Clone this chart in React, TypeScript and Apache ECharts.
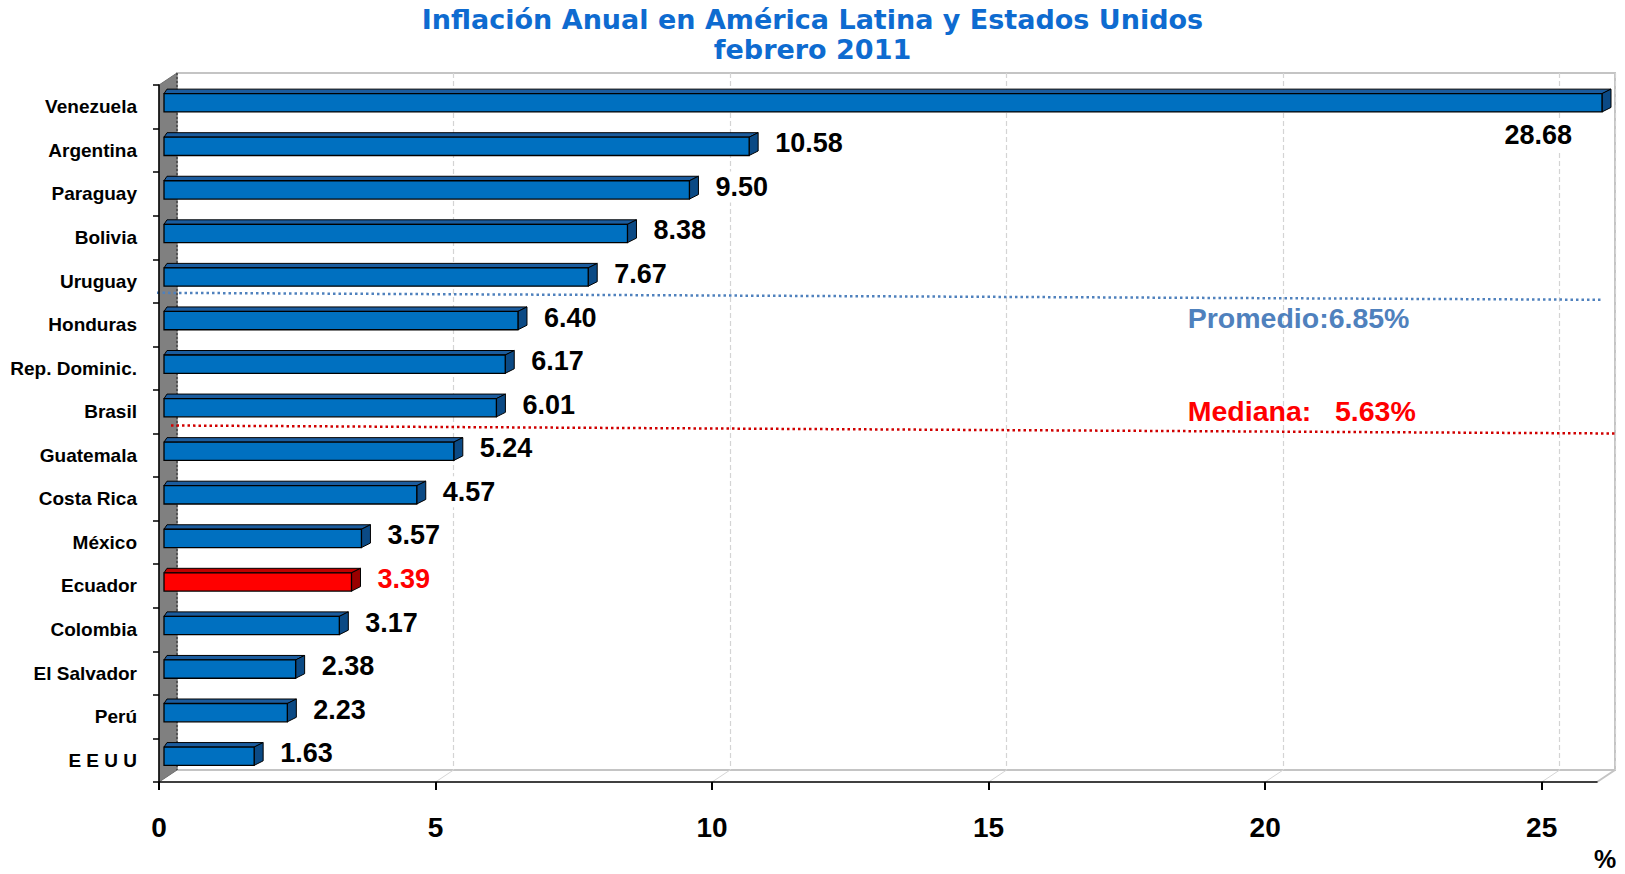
import React, { useEffect, useRef } from 'react';
import * as echarts from 'echarts';

// ---------------- data ----------------
const categories = [
  'Venezuela', 'Argentina', 'Paraguay', 'Bolivia', 'Uruguay', 'Honduras',
  'Rep. Dominic.', 'Brasil', 'Guatemala', 'Costa Rica', 'México', 'Ecuador',
  'Colombia', 'El Salvador', 'Perú', 'E E U U',
];
const values = [28.68, 10.58, 9.5, 8.38, 7.67, 6.4, 6.17, 6.01, 5.24, 4.57, 3.57, 3.39, 3.17, 2.38, 2.23, 1.63];
const highlighted = ['Ecuador'];
const xTicks = [0, 5, 10, 15, 20, 25];
const xMax = 26;
const refValues = [6.85, 5.63];
const refLabels = ['Promedio:6.85%', 'Mediana:   5.63%'];
const titleLines = ['Inflación Anual en América Latina y Estados Unidos', 'febrero 2011'];
const unitLabel = '%';

// ---------------- layout ----------------
const W = 1625;
const H = 874;
const GL = 159;
const GT = 85;
const GW = 1438;
const GH = 697;
const DX = 18;
const DY = -12;
const ANNOT_X = 18.6;

const FONT = 'Arial, "Liberation Sans", Helvetica, sans-serif';

const BLUE = { front: '#0070C0', top: '#1B5C9E', side: '#0B4A85' };
const RED = { front: '#FF0000', top: '#C00000', side: '#9A0000' };

function buildOption() {
  const xToPx = (v: number) => GL + (v / xMax) * GW;

  const barData = values.map((v, i) => [i, v]);
  const refData = refValues.map((v, i) => [i, v]);

  const graphic: any[] = [];
  // left wall
  graphic.push({
    type: 'polygon',
    z: 1,
    shape: { points: [[GL, GT], [GL + DX, GT + DY], [GL + DX, GT + GH + DY], [GL, GT + GH]] },
    style: { fill: '#808080', stroke: '#6e6e6e', lineWidth: 1 },
  });
  // wall back edge
  graphic.push({
    type: 'line',
    z: 1,
    shape: { x1: GL + DX, y1: GT + DY, x2: GL + DX, y2: GT + GH + DY },
    style: { stroke: '#444', lineWidth: 1.5, lineDash: [2, 2] },
  });
  // floor diagonals
  xTicks.forEach((t) => {
    if (t === 0) return;
    const x = xToPx(t);
    graphic.push({
      type: 'line',
      z: 0,
      shape: { x1: x, y1: GT + GH, x2: x + DX, y2: GT + GH + DY },
      style: { stroke: '#d6d6d6', lineWidth: 1 },
    });
  });
  graphic.push({
    type: 'line',
    z: 1,
    shape: { x1: GL + GW, y1: GT + GH, x2: GL + GW + DX, y2: GT + GH + DY },
    style: { stroke: '#c4c4c4', lineWidth: 2 },
  });
  graphic.push({
    type: 'text',
    z: 5,
    x: 1605,
    y: 859,
    style: {
      text: unitLabel,
      font: `bold 25px ${FONT}`,
      fill: '#000',
      align: 'center',
      verticalAlign: 'middle',
    },
  });

  return {
    animation: false,
    backgroundColor: '#ffffff',
    title: {
      text: titleLines.join('\n'),
      left: W / 2,
      top: 4,
      padding: 0,
      textAlign: 'center',
      textStyle: {
        fontFamily: '"DejaVu Sans", Verdana, sans-serif',
        fontWeight: 'bold',
        fontSize: 27,
        lineHeight: 30,
        color: '#0E6BD0',
      },
    },
    grid: [
      { left: GL, top: GT, width: GW, height: GH, show: false },
      {
        left: GL + DX,
        top: GT + DY,
        width: GW,
        height: GH,
        show: true,
        borderColor: '#c4c4c4',
        borderWidth: 2,
        backgroundColor: 'transparent',
      },
    ],
    xAxis: [
      {
        type: 'value',
        gridIndex: 0,
        min: 0,
        max: xMax,
        interval: 5,
        z: 3,
        axisLine: { show: true, lineStyle: { color: '#000', width: 1.5 } },
        axisTick: { show: true, length: 8, customValues: xTicks, lineStyle: { color: '#000', width: 2 } },
        axisLabel: {
          customValues: xTicks,
          margin: 31,
          fontSize: 28,
          fontWeight: 'bold',
          fontFamily: FONT,
          color: '#000',
        },
        splitLine: { show: false },
      },
      {
        type: 'value',
        gridIndex: 1,
        min: 0,
        max: xMax,
        interval: 5,
        axisLine: { show: false },
        axisTick: { show: false },
        axisLabel: { show: false },
        splitLine: { show: true, lineStyle: { color: '#d4d4d4', type: [5, 3], width: 1.2 } },
      },
    ],
    yAxis: [
      {
        type: 'category',
        gridIndex: 0,
        data: categories,
        inverse: true,
        z: 3,
        axisLine: { show: true, lineStyle: { color: '#000', width: 1.5 } },
        axisTick: { show: true, length: 6, lineStyle: { color: '#000', width: 1.5 } },
        axisLabel: {
          margin: 22,
          fontSize: 19,
          fontWeight: 'bold',
          fontFamily: FONT,
          color: '#000',
        },
        splitLine: { show: false },
      },
      {
        type: 'category',
        gridIndex: 1,
        data: categories,
        inverse: true,
        show: false,
      },
    ],
    graphic,
    series: [
      {
        type: 'custom',
        name: 'refs',
        xAxisIndex: 0,
        yAxisIndex: 0,
        clip: false,
        z: 2,
        data: refData,
        encode: { x: 1, y: 0 },
        renderItem: (params: any, api: any) => {
          const k = api.value(0);
          const ref = api.value(1);
          const nAbove = values.filter((v) => v > ref).length;
          const band = api.size([0, 1])[1];
          const yb = api.coord([0, nAbove])[1] - band / 2;
          const xs = api.coord([0, nAbove])[0];
          const xe = api.coord([xMax, nAbove])[0];
          const isMean = k === 0;
          const color = isMean ? '#4F81BD' : '#D00000';
          const textColor = isMean ? '#4F81BD' : '#FF0000';
          const tx = api.coord([ANNOT_X, nAbove])[0];
          const ty = isMean ? yb + 15 : yb - 23;
          return {
            type: 'group',
            children: [
              {
                type: 'line',
                shape: isMean
                  ? { x1: xs - 2, y1: yb - 10, x2: xe + 6, y2: yb - 3 }
                  : { x1: xs + 12, y1: yb - 8, x2: xe + 20, y2: yb },
                style: { stroke: color, lineWidth: 2.5, lineDash: [2.5, 3] },
              },
              {
                type: 'text',
                x: tx,
                y: ty,
                style: {
                  text: refLabels[k],
                  font: `bold 28.5px ${FONT}`,
                  fill: textColor,
                  align: 'left',
                  verticalAlign: 'middle',
                },
              },
            ],
          };
        },
      },
      {
        type: 'custom',
        name: 'Inflación',
        xAxisIndex: 0,
        yAxisIndex: 0,
        clip: false,
        z: 3,
        data: barData,
        encode: { x: 1, y: 0 },
        renderItem: (params: any, api: any) => {
          const idx = api.value(0);
          const v = api.value(1);
          const vc = Math.min(v, xMax);
          const p0 = api.coord([0, idx]);
          const p1 = api.coord([vc, idx]);
          const band = api.size([0, 1])[1];
          const h = band * 0.42;
          const ox = 5;
          const oy = -4;
          const x0 = p0[0] + ox;
          const x1 = p1[0] + ox;
          const yc = p0[1];
          const yT = yc + oy - h / 2;
          const yB = yT + h;
          const dx = 9;
          const dy = -4.5;
          const hi = highlighted.includes(categories[idx]);
          const c = hi ? RED : BLUE;
          const clipped = v > xMax;
          const label = {
            type: 'text',
            x: clipped ? x1 - 26 : x1 + 22,
            y: clipped ? yc + 28 : yc - 7,
            style: {
              text: v.toFixed(2),
              font: `bold 27px ${FONT}`,
              fill: hi ? '#FF0000' : '#000',
              align: clipped ? 'right' : 'left',
              verticalAlign: 'middle',
              backgroundColor: '#ffffff',
              padding: [2, 4],
            },
          };
          return {
            type: 'group',
            children: [
              {
                type: 'polygon',
                shape: { points: [[x0, yT], [x1, yT], [x1 + dx, yT + dy], [x0 + 3, yT + dy]] },
                style: { fill: c.top, stroke: '#000', lineWidth: 1 },
              },
              {
                type: 'polygon',
                shape: { points: [[x1, yT], [x1 + dx, yT + dy], [x1 + dx, yB + dy], [x1, yB]] },
                style: { fill: c.side, stroke: '#000', lineWidth: 1 },
              },
              {
                type: 'rect',
                shape: { x: x0, y: yT, width: x1 - x0, height: h },
                style: { fill: c.front, stroke: '#000', lineWidth: 1.3 },
              },
              label,
            ],
          };
        },
      },
    ],
  };
}

export default function App() {
  const ref = useRef<HTMLDivElement>(null);
  useEffect(() => {
    document.body.style.margin = '0';
    if (!ref.current) return;
    const chart = echarts.init(ref.current, null, { renderer: 'svg', width: W, height: H });
    chart.setOption(buildOption() as any);
    return () => {
      chart.dispose();
    };
  }, []);
  return <div ref={ref} style={{ width: W, height: H }} />;
}
